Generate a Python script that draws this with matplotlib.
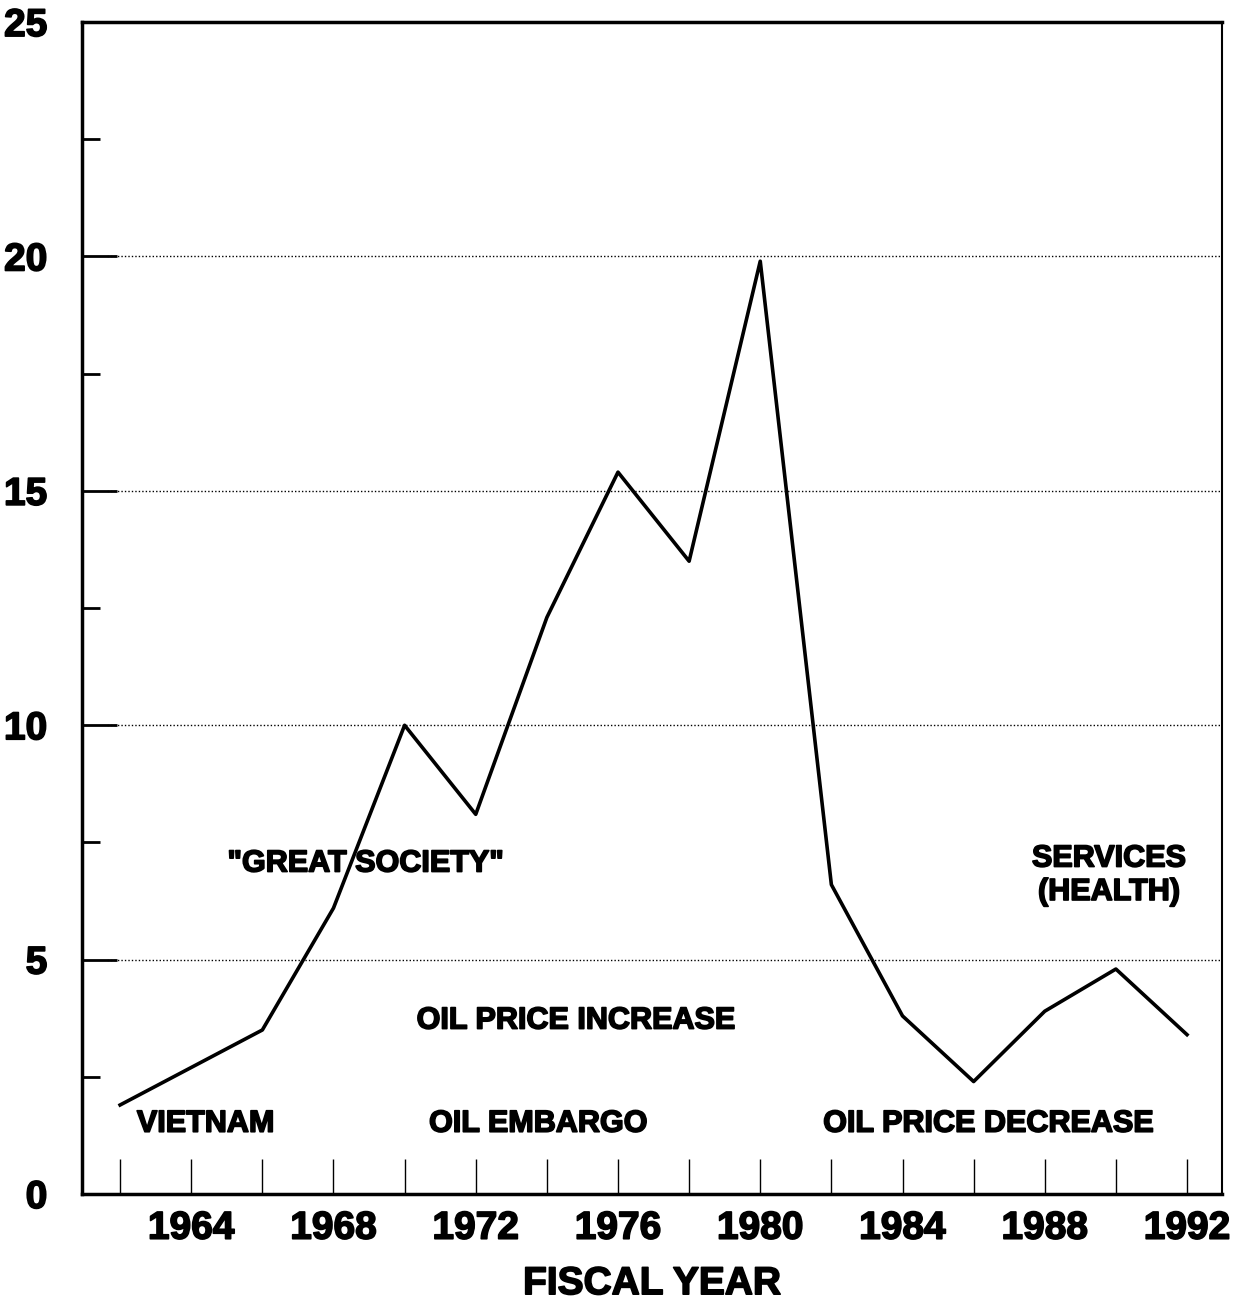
import matplotlib.pyplot as plt
import matplotlib.patheffects as pe
import numpy as np
from matplotlib.ticker import FixedLocator

years = [1962, 1964, 1966, 1968, 1970, 1972, 1974, 1976,
         1978, 1980, 1982, 1984, 1986, 1988, 1990, 1992]
values = [1.9, 2.7, 3.5, 6.1, 10.0, 8.1, 12.3, 15.4,
          13.5, 19.9, 6.6, 3.8, 2.4, 3.9, 4.8, 3.4]

year_labels = [1964, 1968, 1972, 1976, 1980, 1984, 1988, 1992]
unlabeled_years = [1962, 1966, 1970, 1974, 1978, 1982, 1986, 1990]
y_major = [0, 5, 10, 15, 20, 25]
y_minor = [2.5, 7.5, 12.5, 17.5, 22.5]
grid_levels = [5, 10, 15, 20]

annotations = [
    ("VIETNAM", 1964.4, 1.5),
    ("OIL EMBARGO", 1973.75, 1.5),
    ("OIL PRICE DECREASE", 1986.4, 1.5),
    ("OIL PRICE INCREASE", 1974.8, 3.7),
    ('"GREAT SOCIETY"', 1968.9, 7.05),
    ("SERVICES\n(HEALTH)", 1989.8, 6.8),
]

plt.rcParams["font.family"] = ["Liberation Sans", "DejaVu Sans"]
# thicken the bold face a bit so it reads like the heavy print original
heavy = [pe.withStroke(linewidth=1.2, foreground="black")]

fig = plt.figure(figsize=(12.43, 13.0), dpi=100)
ax = fig.add_axes([0.066, 0.0815, 0.917, 0.9015])

for level in grid_levels:
    ax.axhline(level, xmin=0.022, xmax=1, color="black", lw=1.0,
               linestyle=(0, (1, 1.5)), zorder=1)

ax.plot(years, values, color="black", lw=2.6, zorder=3)

ax.set_xlim(1960.93, 1992.98)
ax.set_ylim(0, 25)

ax.xaxis.set_major_locator(FixedLocator(year_labels))
ax.xaxis.set_minor_locator(FixedLocator(unlabeled_years))
ax.set_xticklabels([str(y) for y in year_labels])
ax.yaxis.set_major_locator(FixedLocator(y_major))
ax.yaxis.set_minor_locator(FixedLocator(y_minor))
ax.set_yticklabels([str(v) for v in y_major])

ax.tick_params(axis="x", which="both", direction="in", length=25, width=1.0,
               pad=12, labelsize=28)
ax.tick_params(axis="y", which="major", direction="in", length=25, width=2.0,
               pad=25, labelsize=28)
ax.tick_params(axis="y", which="minor", direction="in", length=13, width=2.0)
for lbl in ax.get_xticklabels() + ax.get_yticklabels():
    lbl.set_fontweight("bold")
    lbl.set_path_effects(heavy)

for side in ["left", "bottom", "top"]:
    ax.spines[side].set_linewidth(2.5)
ax.spines["right"].set_linewidth(1.5)

xl = ax.set_xlabel("FISCAL YEAR", fontsize=28, fontweight="bold", labelpad=14)
xl.set_path_effects(heavy)

for text, x, y in annotations:
    ax.text(x, y, text, ha="center", va="center", fontsize=22,
            fontweight="bold", linespacing=1.15, zorder=4,
            path_effects=heavy)

fig.savefig("out.png", dpi=100)
